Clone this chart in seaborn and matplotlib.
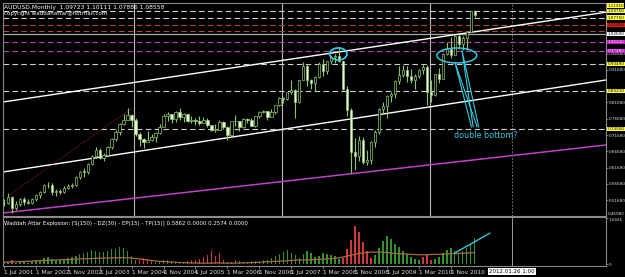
import numpy as np
import pandas as pd
import matplotlib
matplotlib.use("Agg")
import matplotlib.pyplot as plt
import matplotlib.transforms as mtransforms
from matplotlib.patches import Ellipse
import seaborn as sns

# ---------------- data ----------------
opens = [0.5100, 0.5080, 0.5280, 0.4920, 0.5050, 0.5200,
         0.5110, 0.5080, 0.5200, 0.5320, 0.5420, 0.5650, 0.5630, 0.5430, 0.5440, 0.5420, 0.5540, 0.5620,
         0.5630, 0.5870, 0.6050, 0.6040, 0.6270, 0.6520, 0.6700, 0.6480, 0.6550, 0.6800, 0.7040, 0.7260,
         0.7520, 0.7640, 0.7780, 0.7630, 0.7200, 0.7040, 0.6960, 0.7020, 0.7110, 0.7240, 0.7430, 0.7760,
         0.7820, 0.7660, 0.7890, 0.7720, 0.7800, 0.7600, 0.7630, 0.7600, 0.7550, 0.7640, 0.7470, 0.7320,
         0.7330, 0.7580, 0.7420, 0.7160, 0.7590, 0.7590, 0.7420, 0.7660, 0.7620, 0.7450, 0.7740, 0.7880,
         0.7900, 0.7730, 0.7880, 0.8090, 0.8300, 0.8260, 0.8480, 0.8540, 0.8190, 0.8860, 0.9280, 0.8850,
         0.8770, 0.8940, 0.9350, 0.9130, 0.9440, 0.9560, 0.9600, 0.9430, 0.8590, 0.7930, 0.6640, 0.6520,
         0.7020, 0.6340, 0.6410, 0.6960, 0.7250, 0.7970, 0.8070, 0.8370, 0.8420, 0.8830, 0.9010, 0.9180,
         0.8980, 0.8850, 0.8970, 0.9170, 0.9270, 0.8500, 0.8410, 0.9030, 0.8900, 0.9660, 0.9800, 0.9620,
         1.0220, 0.9970, 1.0150, 1.0340, 1.09723]
highs = [0.5200, 0.5400, 0.5300, 0.5140, 0.5250, 0.5270,
         0.5200, 0.5230, 0.5360, 0.5440, 0.5670, 0.5720, 0.5700, 0.5500, 0.5520, 0.5600, 0.5680, 0.5690,
         0.5920, 0.6080, 0.6150, 0.6300, 0.6550, 0.6790, 0.6780, 0.6620, 0.6830, 0.7090, 0.7330, 0.7530,
         0.7820, 0.7990, 0.7800, 0.7700, 0.7270, 0.7080, 0.7290, 0.7210, 0.7270, 0.7500, 0.7810, 0.7880,
         0.7830, 0.7920, 0.7990, 0.7860, 0.7830, 0.7740, 0.7700, 0.7750, 0.7730, 0.7680, 0.7490, 0.7500,
         0.7640, 0.7590, 0.7460, 0.7600, 0.7790, 0.7600, 0.7690, 0.7690, 0.7680, 0.7760, 0.7900, 0.7950,
         0.7920, 0.7960, 0.8100, 0.8350, 0.8340, 0.8500, 0.8870, 0.8570, 0.8870, 0.9400, 0.9340, 0.8900,
         0.8980, 0.9410, 0.9500, 0.9440, 0.9600, 0.9660, 0.9850, 0.9450, 0.8660, 0.8000, 0.7090, 0.7150,
         0.7100, 0.6710, 0.7000, 0.7310, 0.8000, 0.8190, 0.8400, 0.8490, 0.8860, 0.9300, 0.9330, 0.9300,
         0.9200, 0.9030, 0.9210, 0.9360, 0.9310, 0.8860, 0.9050, 0.9220, 0.9690, 1.0010, 1.0180, 1.0250,
         1.0260, 1.0220, 1.0340, 1.0980, 1.10111]
lows = [0.4980, 0.5060, 0.4775, 0.4860, 0.5000, 0.5030,
        0.5040, 0.5050, 0.5150, 0.5250, 0.5400, 0.5540, 0.5330, 0.5300, 0.5360, 0.5380, 0.5500, 0.5540,
        0.5600, 0.5820, 0.5880, 0.5960, 0.6250, 0.6450, 0.6420, 0.6370, 0.6530, 0.6750, 0.6980, 0.7180,
        0.7480, 0.7620, 0.7430, 0.7150, 0.6840, 0.6780, 0.6950, 0.6980, 0.6950, 0.7200, 0.7420, 0.7600,
        0.7550, 0.7560, 0.7640, 0.7560, 0.7570, 0.7530, 0.7470, 0.7470, 0.7530, 0.7420, 0.7280, 0.7260,
        0.7320, 0.7340, 0.7020, 0.7120, 0.7460, 0.7300, 0.7380, 0.7540, 0.7440, 0.7430, 0.7680, 0.7840,
        0.7640, 0.7720, 0.7820, 0.8060, 0.8150, 0.8240, 0.8440, 0.7680, 0.8160, 0.8850, 0.8660, 0.8580,
        0.8510, 0.8920, 0.8970, 0.9050, 0.9340, 0.9390, 0.9420, 0.8550, 0.7740, 0.6010, 0.6110, 0.6370,
        0.6280, 0.6250, 0.6270, 0.6790, 0.7190, 0.7840, 0.7700, 0.8170, 0.8310, 0.8720, 0.8960, 0.8800,
        0.8770, 0.8580, 0.8920, 0.9030, 0.8080, 0.8180, 0.8370, 0.8770, 0.8880, 0.9630, 0.9540, 0.9620,
        0.9800, 0.9780, 0.9770, 1.0340, 1.07886]
closes = [0.5080, 0.5280, 0.4920, 0.5050, 0.5200, 0.5110,
          0.5080, 0.5200, 0.5320, 0.5420, 0.5650, 0.5630, 0.5430, 0.5440, 0.5420, 0.5540, 0.5620, 0.5630,
          0.5870, 0.6050, 0.6040, 0.6270, 0.6520, 0.6700, 0.6480, 0.6550, 0.6800, 0.7040, 0.7260, 0.7520,
          0.7640, 0.7780, 0.7630, 0.7200, 0.7040, 0.6960, 0.7020, 0.7110, 0.7240, 0.7430, 0.7760, 0.7820,
          0.7660, 0.7890, 0.7720, 0.7800, 0.7600, 0.7630, 0.7600, 0.7550, 0.7640, 0.7470, 0.7320, 0.7330,
          0.7580, 0.7420, 0.7160, 0.7590, 0.7590, 0.7420, 0.7660, 0.7620, 0.7450, 0.7740, 0.7880, 0.7900,
          0.7730, 0.7880, 0.8090, 0.8300, 0.8260, 0.8480, 0.8540, 0.8190, 0.8860, 0.9280, 0.8850, 0.8770,
          0.8940, 0.9350, 0.9130, 0.9440, 0.9560, 0.9600, 0.9430, 0.8590, 0.7930, 0.6640, 0.6520, 0.7020,
          0.6340, 0.6410, 0.6960, 0.7250, 0.7970, 0.8070, 0.8370, 0.8420, 0.8830, 0.9010, 0.9180, 0.8980,
          0.8850, 0.8970, 0.9170, 0.9270, 0.8500, 0.8410, 0.9030, 0.8900, 0.9660, 0.9800, 0.9620, 1.0220,
          0.9970, 1.0150, 1.0340, 1.0972, 1.08558]

# Waddah Attar Explosion: signed trend histogram (+ green / - red) and explosion line
wae_trend = [0.04, 0.05, -0.08, 0.03, 0.05, 0.04, 0.03, 0.06, 0.08, 0.10,
             0.14, 0.16, 0.12, 0.10, 0.08, 0.10, 0.13, 0.15, 0.18, 0.22,
             0.26, 0.28, 0.32, 0.30, 0.27, 0.28, 0.30, 0.33, 0.35, 0.38,
             0.36, 0.30, 0.18, 0.08, -0.10, -0.14, -0.12, -0.06, 0.04, 0.06,
             0.10, 0.08, 0.06, 0.05, 0.04, 0.03, -0.06, -0.08, -0.10, -0.12,
             -0.16, -0.20, -0.30, -0.18, -0.24, -0.10, 0.05, -0.04, -0.08, 0.06,
             0.05, 0.04, 0.07, 0.06, 0.05, 0.08, 0.10, 0.14, 0.18, 0.22,
             0.28, 0.32, 0.26, 0.20, 0.14, 0.22, 0.30, 0.24, 0.16, 0.18,
             0.24, 0.22, 0.20, 0.18, 0.12, -0.14, -0.35, -0.55, -0.86, -0.72,
             -0.50, -0.30, -0.14, 0.20, 0.36, 0.52, 0.64, 0.56, 0.46, 0.38,
             0.30, 0.22, 0.16, 0.12, 0.08, -0.16, -0.20, -0.10, 0.12, 0.16,
             0.24, 0.32, 0.36, 0.30, 0.26, 0.30, 0.36, 0.46, 0.5862]
wae_explosion = [0.04, 0.045, 0.05, 0.05, 0.055, 0.06, 0.06, 0.065, 0.07, 0.075,
                 0.08, 0.085, 0.09, 0.09, 0.095, 0.10, 0.10, 0.105, 0.11, 0.115,
                 0.12, 0.12, 0.125, 0.13, 0.13, 0.135, 0.135, 0.14, 0.14, 0.145,
                 0.145, 0.14, 0.135, 0.125, 0.115, 0.10, 0.09, 0.08, 0.07, 0.06,
                 0.055, 0.05, 0.045, 0.04, 0.035, 0.03, 0.03, 0.025, 0.025, 0.02,
                 0.02, 0.02, 0.02, 0.025, 0.025, 0.02, 0.02, 0.02, 0.02, 0.025,
                 0.025, 0.03, 0.03, 0.035, 0.04, 0.045, 0.05, 0.055, 0.06, 0.065,
                 0.07, 0.075, 0.08, 0.085, 0.09, 0.09, 0.095, 0.10, 0.10, 0.105,
                 0.11, 0.115, 0.12, 0.13, 0.14, 0.16, 0.18, 0.20, 0.22, 0.24,
                 0.25, 0.26, 0.27, 0.27, 0.27, 0.265, 0.26, 0.25, 0.24, 0.235,
                 0.23, 0.225, 0.22, 0.215, 0.21, 0.21, 0.21, 0.215, 0.22, 0.22,
                 0.225, 0.23, 0.23, 0.235, 0.24, 0.245, 0.25, 0.255, 0.2574]

tick_labels = ["1 Jul 2001", "1 Mar 2002", "1 Nov 2002", "1 Jul 2003", "1 Mar 2004",
               "1 Nov 2004", "1 Jul 2005", "1 Mar 2006", "1 Nov 2006", "1 Jul 2007",
               "1 Mar 2008", "1 Nov 2008", "1 Jul 2009", "1 Mar 2010", "1 Nov 2010"]
price_ticks = [0.96680, 0.91680, 0.81680, 0.76680, 0.71680, 0.66680,
               0.61680, 0.56680, 0.51680]
price_min_label = 0.46980

# horizontal levels drawn on the chart: price, kind, whether it has a price tag
level_prices = [1.0975, 1.0775, 1.0545, 1.0361, 1.0269, 1.0024, 0.9748, 0.9349, 0.8521, 0.7355]
level_kinds = ["white", "white", "red", "red", "solid", "magenta", "magenta", "white", "white", "white"]
level_tagged = [True, True, True, False, True, True, True, True, True, True]
top_tag_price = 1.1135

# trend lines (bar index, price)
upper_channel = ([-0.25, 150.9], [0.8183, 1.0938])
middle_channel = ([-0.25, 150.9], [0.6036, 0.8858])
lower_magenta = ([-0.25, 150.9], [0.4778, 0.6864])
red_dotted = ([1.0, 32.1], [0.530, 0.800])
grid_x = [32.6, 69.7, 106.8]
cursor_x = 127.3

# ---------------- style ----------------
sns.set_theme(style="dark", rc={"axes.facecolor": "black", "figure.facecolor": "black",
                                "axes.edgecolor": "#8a8a8a", "axes.grid": False})
plt.rcParams['font.family'] = ['DejaVu Sans']

W, H = 625, 277
fig = plt.figure(figsize=(W / 100, H / 100), dpi=100)
ax = fig.add_axes([3 / W, 1 - 216 / H, 603 / W, 213 / H])
ax2 = fig.add_axes([3 / W, 11 / H, 603 / W, 49 / H])

n = len(closes)
idx = np.arange(n)
df = pd.DataFrame({"i": idx, "o": opens, "h": highs, "l": lows, "c": closes})

xlo, xhi = -0.25, 150.9
for a in (ax, ax2):
    a.set_facecolor("black")
    a.set_xlim(xlo, xhi)
    for s in a.spines.values():
        s.set_color("#8a8a8a")
        s.set_linewidth(0.8)
ax.set_ylim(0.4686, 1.1220)

# grid verticals
for gx in grid_x:
    ax.axvline(gx, color="#b8b8b8", lw=0.8, zorder=1)
ax.axvline(cursor_x, color="#8a8a8a", lw=0.6, ls=(0, (2, 2)), zorder=1)
ax2.axvline(cursor_x, color="#9a9a9a", lw=0.7, zorder=1)

# horizontal levels
styles = {"white": dict(color="#cfcfcf", ls=(0, (5, 3)), lw=0.8),
          "red": dict(color="#b04a3a", ls=(0, (5, 3)), lw=0.8),
          "solid": dict(color="#a8a8a8", ls="-", lw=0.9),
          "magenta": dict(color="#b040b8", ls=(0, (5, 3)), lw=0.8)}
for p, k in zip(level_prices, level_kinds):
    ax.axhline(p, zorder=1, **styles[k])

# trend lines
sns.lineplot(x=upper_channel[0], y=upper_channel[1], ax=ax, color="white", lw=1.0, zorder=2)
sns.lineplot(x=middle_channel[0], y=middle_channel[1], ax=ax, color="white", lw=1.0, zorder=2)
sns.lineplot(x=lower_magenta[0], y=lower_magenta[1], ax=ax, color="#c040c8", lw=1.1, zorder=2)
ax.plot(red_dotted[0], red_dotted[1], color="#c03030", lw=0.6, ls=(0, (1, 1.5)), zorder=2)

# candles
green = "#8cc66a"
bull = df["c"] >= df["o"]
ax.vlines(df["i"], df["l"], df["h"], color=green, lw=0.8, zorder=3)
body_h = np.maximum((df["c"] - df["o"]).abs(), 0.002)
body_b = np.minimum(df["c"], df["o"])
fills = np.where(bull, "black", "#eef5dc")
ax.bar(df["i"], body_h, bottom=body_b, width=0.62, color=fills, edgecolor=green,
       linewidth=0.5, zorder=4)

# annotations (cyan)
cyan = "#35c8e0"
ax.add_patch(Ellipse((83.8, 0.9656), 4.3, 0.037, fill=False, ec=cyan, lw=1.3, zorder=6))
ax.add_patch(Ellipse((113.5, 0.961), 10.0, 0.046, fill=False, ec=cyan, lw=1.1, zorder=6))
tips = [(113.0, 0.941), (114.8, 0.9768)]
bases = [(117.2, 118.6), (117.6, 119.0)]
for (tx, ty), (b1, b2) in zip(tips, bases):
    ax.plot([b1, tx, b2], [0.7416, ty, 0.7416], color=cyan, lw=0.8, zorder=6)
ax.text(120.8, 0.717, "double bottom?", color=cyan, fontsize=5.8, ha="center", va="center", zorder=6)

# title texts
ax.text(0.002, 0.992, "AUDUSD,Monthly  1.09723 1.10111 1.07886 1.08558", transform=ax.transAxes,
        color="white", fontsize=4.3, va="top", ha="left")
ax.text(0.002, 0.962, "copyright waddahattar@hotmail.com", transform=ax.transAxes,
        color="white", fontsize=4.0, va="top", ha="left")

# right axis of main chart
LBL = 2.95
ax.yaxis.tick_right()
ax.set_yticks(price_ticks)
ax.set_yticklabels([f"{v:.5f}" for v in price_ticks], fontsize=LBL, color="#e0e0e0")
ax.tick_params(axis="y", length=1.2, width=0.5, color="#a0a0a0", pad=0.5)
ax.set_xticks([])

trans = mtransforms.blended_transform_factory(ax.transAxes, ax.transData)
box_style = {"white": ("#ffff40", "black"), "red": ("#e01818", "#300000"),
             "solid": ("white", "black"), "magenta": ("#c81ec8", "#f0d0f0")}
for p, k, t in zip(level_prices, level_kinds, level_tagged):
    if not t:
        continue
    fc, tc = box_style[k]
    ax.text(1.0025, p, f"{p:.5f}", transform=trans, fontsize=LBL, color=tc, ha="left", va="center",
            clip_on=False, bbox=dict(boxstyle="square,pad=0.08", fc=fc, ec="none"))
ax.text(1.0025, top_tag_price, f"{top_tag_price:.5f}", transform=trans, fontsize=LBL, color="black",
        ha="left", va="center", clip_on=False,
        bbox=dict(boxstyle="square,pad=0.08", fc="#ffff40", ec="none"))
ax.text(1.0035, price_min_label, f"{price_min_label:.5f}", transform=trans, fontsize=LBL,
        color="#e0e0e0", ha="left", va="bottom", clip_on=False)

# indicator panel
ind = pd.DataFrame({"i": idx, "v": np.abs(wae_trend),
                    "dir": np.where(np.array(wae_trend) >= 0, "up", "down")})
sns.barplot(data=ind, x="i", y="v", hue="dir", palette={"up": "#23a023", "down": "#e82020"},
            native_scale=True, dodge=False, width=0.35, legend=False, errorbar=None, ax=ax2,
            linewidth=0, zorder=3)
sns.lineplot(x=idx, y=wae_explosion, ax=ax2, color="#a86a40", lw=0.9, zorder=4)
ax2.plot([113.0, 121.8], [0.25, 0.70], color=cyan, lw=1.0, zorder=6)
ax2.set_xlim(xlo, xhi)
ax2.set_ylim(-0.045, 1.065)
ax2.set_ylabel("")
ax2.set_xlabel("")
ax2.yaxis.tick_right()
ax2.set_yticks([0, 1.0426])
ax2.set_yticklabels(["0", "1.0426"], fontsize=LBL, color="#e0e0e0")
for t in ax2.get_yticklabels():
    if t.get_text() == "1.0426":
        t.set_va("top")
ax2.tick_params(axis="y", length=1.2, width=0.5, color="#a0a0a0", pad=0.5)
ax2.set_xticks(np.arange(0, 113, 8))
ax2.set_xticklabels(tick_labels, fontsize=4.2, color="#e0e0e0", ha="left")
ax2.tick_params(axis="x", length=2, width=0.5, color="#a0a0a0", pad=1, bottom=True)
ax2.text(0.002, 0.86, "Waddah Attar Explosion: [S(150) - DZ(30) - EP(15) - TP(15)] 0.5862 0.0000 0.2574 0.0000",
         transform=ax2.transAxes, color="white", fontsize=3.9, va="center", ha="left")

fig.text(512 / W, 1 - 271.5 / H, "2012.01.26 1:00", fontsize=4.0, color="black", ha="center", va="center",
         bbox=dict(boxstyle="square,pad=0.15", fc="white", ec="none"))

fig.savefig("out.png", dpi=100, facecolor="black")
